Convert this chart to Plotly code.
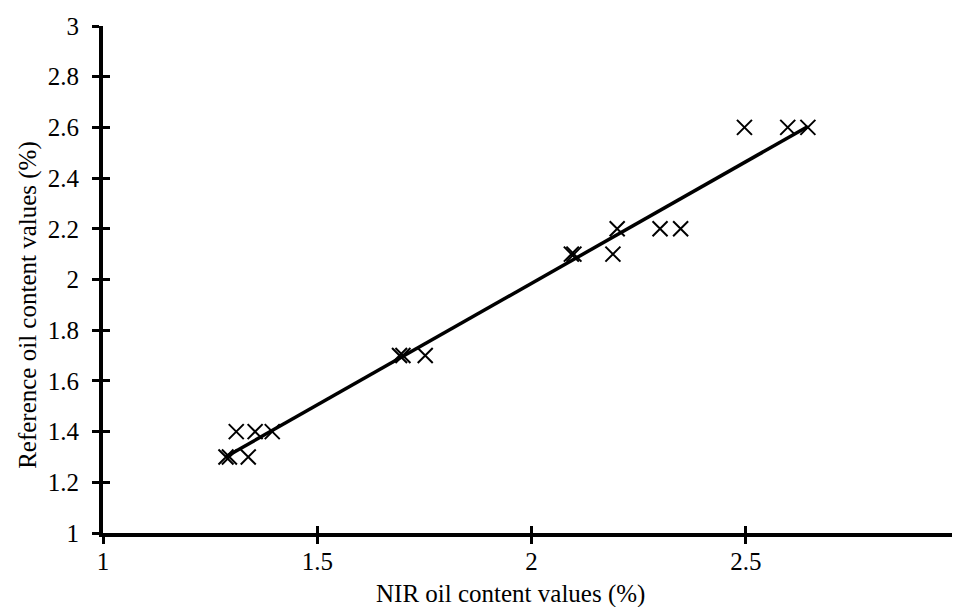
import numpy as np
import plotly.graph_objects as go

nir = [1.287, 1.295, 1.339, 1.311, 1.355, 1.395, 1.692, 1.700, 1.752,
       2.093, 2.099, 2.190, 2.200, 2.300, 2.348, 2.497, 2.598, 2.645]
ref = [1.3, 1.3, 1.3, 1.4, 1.4, 1.4, 1.7, 1.7, 1.7,
       2.1, 2.1, 2.1, 2.2, 2.2, 2.2, 2.6, 2.6, 2.6]

x_ticks = [1, 1.5, 2, 2.5, 3]
y_ticks = [1, 1.2, 1.4, 1.6, 1.8, 2, 2.2, 2.4, 2.6, 2.8, 3]

x_title = "NIR oil content values (%)"
y_title = "Reference oil content values (%)"

slope, intercept = np.polyfit(nir, ref, 1)
fx = [min(nir), max(nir)]
fy = [slope * v + intercept for v in fx]

font = dict(family="Liberation Serif, Times New Roman, serif", size=25, color="black")

fig = go.Figure()
fig.add_trace(go.Scatter(x=nir, y=ref, mode="markers",
                         marker=dict(symbol="x-thin-open", size=15, color="black",
                                     line=dict(width=2, color="black")),
                         showlegend=False, cliponaxis=False))
fig.add_trace(go.Scatter(x=fx, y=fy, mode="lines",
                         line=dict(color="black", width=3.5), showlegend=False))
# invisible trace to activate overlay axes (for crossing tick marks)
fig.add_trace(go.Scatter(x=[None], y=[None], xaxis="x2", yaxis="y2",
                         showlegend=False, hoverinfo="skip"))

axis_common = dict(showgrid=False, zeroline=False, showline=True, linecolor="black",
                   linewidth=4, ticks="outside", ticklen=7, tickwidth=3,
                   tickcolor="black", tickfont=font)

fig.update_layout(
    width=952, height=599,
    margin=dict(l=95, r=0, t=18, b=74),
    paper_bgcolor="white", plot_bgcolor="white",
    font=font,
    xaxis=dict(range=[1, 3], tickvals=x_ticks, ticktext=[str(v) for v in x_ticks],
               ticklabelstandoff=-4, **axis_common),
    yaxis=dict(range=[1, 3], tickvals=y_ticks, ticktext=[f"{v:g}" for v in y_ticks],
               ticklabelstandoff=8, **axis_common),
    xaxis2=dict(range=[1, 3], overlaying="x", anchor="y2", showgrid=False, zeroline=False,
                tickvals=x_ticks, ticks="inside", ticklen=7, tickwidth=3,
                tickcolor="black", showticklabels=False, showline=False),
    yaxis2=dict(range=[1, 3], overlaying="y", anchor="x2", showgrid=False, zeroline=False,
                tickvals=y_ticks, ticks="inside", ticklen=7, tickwidth=3,
                tickcolor="black", showticklabels=False, showline=False),
    annotations=[
        dict(text=x_title, xref="paper", yref="paper", x=0.475, y=-0.120,
             xanchor="center", yanchor="middle", showarrow=False, font=font),
        dict(text=y_title, xref="paper", yref="paper", x=-0.0875, y=0.45,
             xanchor="center", yanchor="middle", showarrow=False, font=font,
             textangle=-90),
    ],
)

fig.write_html("out.html")
